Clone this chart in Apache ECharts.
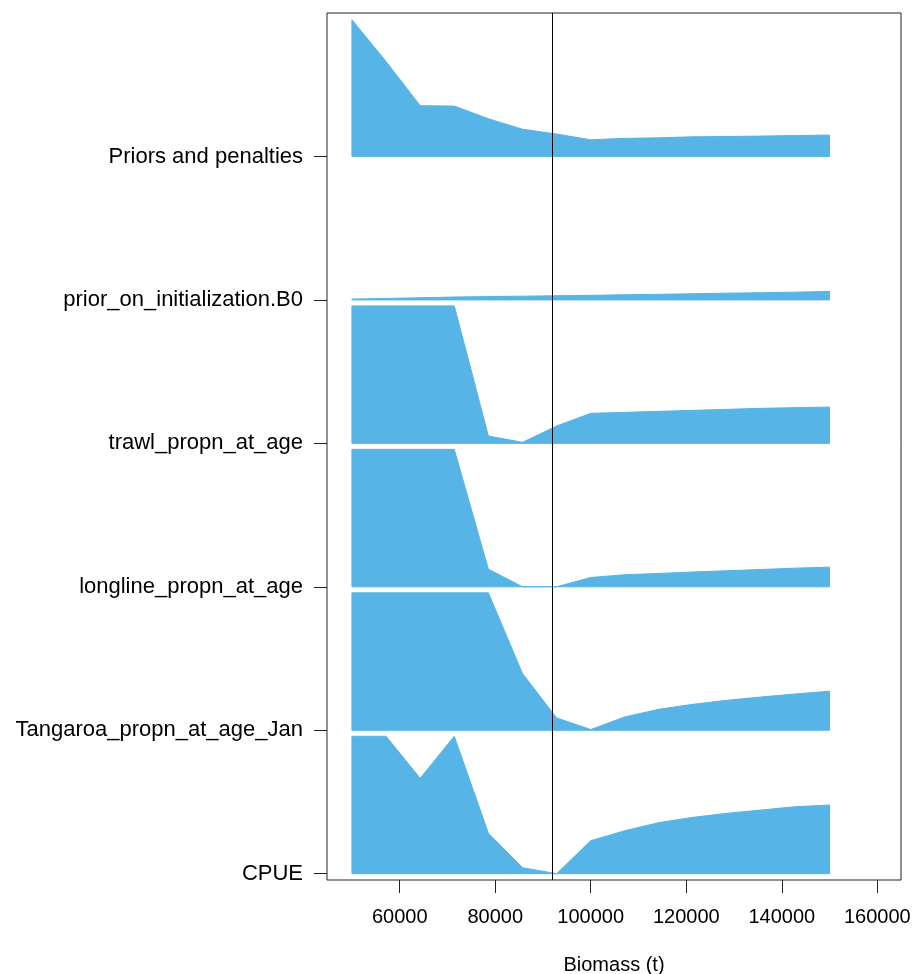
<!DOCTYPE html>
<html>
<head>
<meta charset="utf-8">
<script src="https://cdn.jsdelivr.net/npm/echarts@6/dist/echarts.min.js"></script>
<style>
  html, body { margin: 0; padding: 0; background: #ffffff; }
  #chart { width: 914px; height: 974px; }
</style>
</head>
<body>
<div id="chart"></div>
<script>
// Biomass values at which each likelihood component was profiled
const biomass = [50000, 57143, 64286, 71429, 78571, 85714, 92857, 100000,
                 107143, 114286, 121429, 128571, 135714, 142857, 150000];

// Row labels, bottom to top
const rowLabels = ['CPUE', 'Tangaroa_propn_at_age_Jan', 'longline_propn_at_age',
                   'trawl_propn_at_age', 'prior_on_initialization.B0', 'Priors and penalties'];

// Scaled likelihood component heights (in row units) for each row
const cpue      = [0.958, 0.958, 0.665, 0.958, 0.282, 0.042, 0.000, 0.230,
                   0.300, 0.356, 0.393, 0.421, 0.444, 0.467, 0.479];
const tangaroa  = [0.958, 0.958, 0.958, 0.958, 0.958, 0.395, 0.086, 0.005,
                   0.093, 0.146, 0.181, 0.209, 0.232, 0.253, 0.272];
const longline  = [0.958, 0.958, 0.958, 0.958, 0.123, 0.000, 0.000, 0.065,
                   0.084, 0.093, 0.103, 0.112, 0.121, 0.130, 0.137];
const trawl     = [0.958, 0.958, 0.958, 0.958, 0.051, 0.007, 0.121, 0.209,
                   0.216, 0.223, 0.230, 0.237, 0.244, 0.249, 0.253];
const priorB0   = [0.006, 0.010, 0.015, 0.020, 0.023, 0.026, 0.029, 0.032,
                   0.036, 0.039, 0.043, 0.047, 0.050, 0.054, 0.059];
const priors    = [0.953, 0.662, 0.354, 0.351, 0.263, 0.190, 0.156, 0.116,
                   0.126, 0.130, 0.137, 0.139, 0.142, 0.146, 0.149];

// Axis tick values
const xTicks = [60000, 80000, 100000, 120000, 140000, 160000];
const rowTicks = [1, 2, 3, 4, 5, 6];

// Estimated B0 marked by the vertical reference line
const mpdB0 = 92000;

const rowValues = [cpue, tangaroa, longline, trawl, priorB0, priors];

const chart = echarts.init(document.getElementById('chart'), null, { renderer: 'canvas' });

const FONT = '"Liberation Sans", Arial, Helvetica, sans-serif';
const FILL = '#56B4E6';

chart.setOption({
  animation: false,
  backgroundColor: '#ffffff',
  grid: {
    left: 327, top: 13, width: 574, height: 867,
    outerBoundsMode: 'none',
    containLabel: false,
    show: true, borderColor: '#222', borderWidth: 1, backgroundColor: 'transparent'
  },
  xAxis: {
    type: 'value',
    min: 44780, max: 164960,
    name: 'Biomass (t)',
    nameLocation: 'middle',
    nameGap: 75,
    nameTextStyle: { fontFamily: FONT, fontSize: 20, color: '#000' },
    axisLine: { show: false },
    splitLine: { show: false },
    axisTick: {
      show: true, customValues: xTicks, length: 13, inside: false,
      lineStyle: { color: '#222', width: 1 }
    },
    axisLabel: {
      customValues: xTicks, margin: 27,
      fontFamily: FONT, fontSize: 20, color: '#000',
      formatter: v => String(v)
    }
  },
  yAxis: {
    type: 'value',
    min: 0.956, max: 7.0,
    axisLine: { show: false },
    splitLine: { show: false },
    axisTick: {
      show: true, customValues: rowTicks, length: 13, inside: false,
      lineStyle: { color: '#222', width: 1 }
    },
    axisLabel: {
      customValues: rowTicks, margin: 24,
      fontFamily: FONT, fontSize: 22, color: '#000',
      formatter: v => rowLabels[Math.round(v) - 1]
    }
  },
  series: [{
    type: 'custom',
    coordinateSystem: 'cartesian2d',
    encode: { x: 0, y: 1 },
    data: rowValues.map((vals, i) => [biomass[0], i + 1]),
    renderItem: function (params, api) {
      const i = params.dataIndex;
      const base = i + 1;
      const vals = rowValues[i];
      const pts = [api.coord([biomass[0], base])];
      for (let j = 0; j < biomass.length; j++) {
        pts.push(api.coord([biomass[j], base + vals[j]]));
      }
      pts.push(api.coord([biomass[biomass.length - 1], base]));
      return {
        type: 'polygon',
        shape: { points: pts },
        style: { fill: FILL, stroke: FILL, lineWidth: 1, lineJoin: 'miter' }
      };
    },
    markLine: {
      silent: true,
      symbol: ['none', 'none'],
      label: { show: false },
      lineStyle: { color: '#000', width: 1, type: 'solid' },
      data: [{ xAxis: mpdB0 }]
    }
  }]
});
</script>
</body>
</html>
